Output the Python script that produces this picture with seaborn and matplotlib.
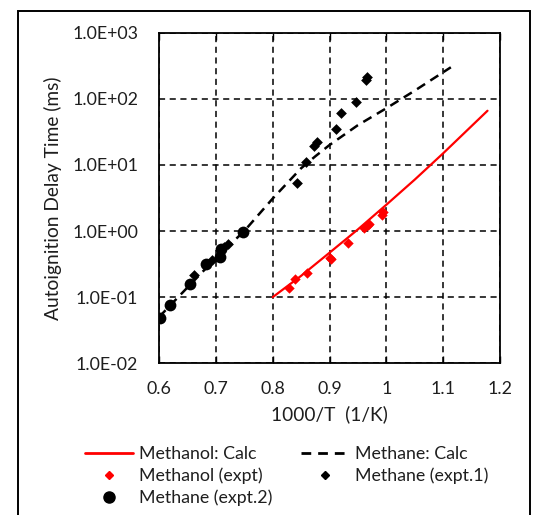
import matplotlib
matplotlib.use("Agg")
import matplotlib.pyplot as plt
import matplotlib.ticker as mticker
from matplotlib.lines import Line2D
from matplotlib.patches import Rectangle
import seaborn as sns
import pandas as pd

# ---- data ----
meoh_calc_x = [0.80, 0.85, 0.90, 0.95, 1.00, 1.05, 1.10, 1.178]
meoh_calc_y = [0.10, 0.21, 0.47, 1.06, 2.5, 6.0, 15.0, 66.0]

ch4_calc_x = [0.60, 0.65, 0.70, 0.75, 0.80, 0.85, 0.875, 0.90, 0.95, 1.00, 1.05, 1.1135]
ch4_calc_y = [0.05, 0.14, 0.39, 1.0, 3.1, 8.9, 13.5, 20.0, 40.0, 72.0, 133.0, 300.0]

meoh_expt_x = [0.829, 0.840, 0.860, 0.900, 0.903, 0.932, 0.960, 0.967, 0.970, 0.992, 0.994]
meoh_expt_y = [0.14, 0.19, 0.235, 0.39, 0.38, 0.66, 1.12, 1.22, 1.30, 1.75, 1.95]

ch4_expt1_x = [0.662, 0.694, 0.715, 0.722, 0.842, 0.8595, 0.873, 0.878, 0.911, 0.921, 0.946, 0.965, 0.966]
ch4_expt1_y = [0.216, 0.37, 0.58, 0.64, 5.3, 11.0, 19.3, 22.4, 35.0, 60.0, 91.0, 195.0, 215.0]

ch4_expt2_x = [0.601, 0.619, 0.655, 0.682, 0.707, 0.709, 0.748]
ch4_expt2_y = [0.049, 0.077, 0.16, 0.32, 0.41, 0.53, 0.98]

x_ticks = [0.6, 0.7, 0.8, 0.9, 1.0, 1.1, 1.2]
y_ticks = [1e-2, 1e-1, 1e0, 1e1, 1e2, 1e3]

# ---- style ----
sns.set_theme(style="white")
plt.rcParams["font.family"] = ["Lato", "DejaVu Sans"]
FS = 12.8
TXT = "#1e1e1e"

fig = plt.figure(figsize=(5.35, 5.15), dpi=100)
ax = fig.add_axes([0.2972, 0.2946, 0.6374, 0.6419])

df_mc = pd.DataFrame({"x": meoh_calc_x, "y": meoh_calc_y})
df_cc = pd.DataFrame({"x": ch4_calc_x, "y": ch4_calc_y})
df_me = pd.DataFrame({"x": meoh_expt_x, "y": meoh_expt_y})
df_e1 = pd.DataFrame({"x": ch4_expt1_x, "y": ch4_expt1_y})
df_e2 = pd.DataFrame({"x": ch4_expt2_x, "y": ch4_expt2_y})

ax.set_yscale("log")
ax.set_xlim(0.6, 1.2)
ax.set_ylim(1e-2, 1e3)

# grid
ax.grid(True, which="major", color="black", linestyle=(0, (4, 3)), linewidth=1.1)
ax.set_axisbelow(True)

sns.lineplot(data=df_mc, x="x", y="y", ax=ax, color="#ff0000", linewidth=1.6,
             estimator=None, sort=False, legend=False, zorder=3)
sns.lineplot(data=df_cc, x="x", y="y", ax=ax, color="black", linewidth=1.8,
             estimator=None, sort=False, legend=False, zorder=3,
             dashes=False)
ax.lines[-1].set_linestyle((0, (3.8, 2.5)))

sns.scatterplot(data=df_me, x="x", y="y", ax=ax, color="#ff0000", marker="D",
                s=28, linewidth=0, legend=False, zorder=4)
sns.scatterplot(data=df_e1, x="x", y="y", ax=ax, color="black", marker="D",
                s=30, linewidth=0, legend=False, zorder=4)
sns.scatterplot(data=df_e2, x="x", y="y", ax=ax, color="black", marker="o",
                s=72, linewidth=0, legend=False, zorder=4)

ax.set_xticks(x_ticks)
ax.set_yticks(y_ticks)
ax.yaxis.set_minor_locator(mticker.NullLocator())
ax.xaxis.set_major_formatter(mticker.FuncFormatter(lambda v, p: f"{v:g}"))
ax.yaxis.set_major_formatter(mticker.FuncFormatter(lambda v, p: f"{v:.1E}"))
ax.tick_params(axis="both", which="major", direction="in", length=5, width=1,
               color="black", labelsize=FS, labelcolor=TXT,
               top=True, bottom=True, left=False, right=False)
ax.tick_params(axis="x", pad=13)
ax.tick_params(axis="y", pad=15)

for sp in ax.spines.values():
    sp.set_color("black")
    sp.set_linewidth(1.3)

ax.set_xlabel("1000/T  (1/K)", fontsize=FS + 1, color=TXT, labelpad=6)
ax.set_ylabel("Autoignition Delay Time (ms)", fontsize=FS + 1, color=TXT, labelpad=7)

handles = [
    Line2D([], [], color="#ff0000", linewidth=2),
    Line2D([], [], color="#ff0000", marker="D", linestyle="none", markersize=4),
    Line2D([], [], color="black", marker="o", linestyle="none", markersize=8),
    Line2D([], [], color="black", linewidth=2, linestyle=(0, (3.5, 2.5))),
    Line2D([], [], color="black", marker="D", linestyle="none", markersize=4),
]
labels = ["Methanol: Calc", "Methanol (expt)", "Methane (expt.2)",
          "Methane: Calc", "Methane (expt.1)"]
fig.legend(handles, labels, loc="upper left", bbox_to_anchor=(0.158, 0.134),
           ncol=2, frameon=False, fontsize=FS, handlelength=2.75,
           handletextpad=0.3, columnspacing=1.6, labelspacing=0.3,
           borderpad=0, borderaxespad=0, labelcolor=TXT)

# outer border of chart area
fig.patches.append(Rectangle((0.033, -0.01), 0.958, 0.9886, transform=fig.transFigure,
                             fill=False, edgecolor="black", linewidth=1.4))

fig.savefig("out.png", dpi=100)
